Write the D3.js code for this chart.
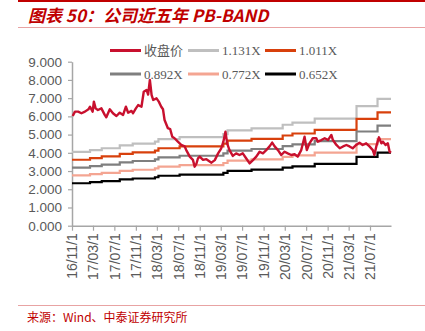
<!DOCTYPE html>
<html>
<head>
<meta charset="utf-8">
<script src="https://cdn.jsdelivr.net/npm/d3@7"></script>
<style>
  html, body { margin: 0; padding: 0; background: #fff; }
  svg { display: block; }
</style>
</head>
<body>
<svg id="chart" width="425" height="331"></svg>
<script>
// ---------- data ----------
const closeDates = ["2016-11-05","2016-11-18","2016-12-06","2016-12-25","2017-01-14","2017-02-03","2017-02-12","2017-02-27","2017-03-06","2017-03-16","2017-03-29","2017-04-18","2017-05-07","2017-05-16","2017-06-05","2017-06-23","2017-07-13","2017-08-01","2017-08-20","2017-09-05","2017-09-18","2017-10-07","2017-10-16","2017-11-01","2017-11-14","2017-12-03","2017-12-16","2018-01-01","2018-01-10","2018-01-20","2018-01-30","2018-02-08","2018-02-27","2018-03-12","2018-03-26","2018-04-05","2018-04-14","2018-05-03","2018-05-16","2018-05-28","2018-06-10","2018-06-29","2018-07-18","2018-08-07","2018-08-16","2018-09-05","2018-09-23","2018-10-03","2018-10-13","2018-10-22","2018-11-01","2018-11-20","2018-12-09","2019-01-07","2019-01-26","2019-02-14","2019-03-04","2019-03-16","2019-03-28","2019-04-07","2019-04-20","2019-05-09","2019-05-28","2019-06-16","2019-07-05","2019-07-24","2019-08-13","2019-09-01","2019-09-20","2019-10-09","2019-10-28","2019-11-16","2019-12-05","2019-12-20","2020-01-03","2020-01-22","2020-02-10","2020-02-29","2020-03-18","2020-04-07","2020-04-26","2020-05-14","2020-06-03","2020-06-22","2020-07-05","2020-07-20","2020-08-08","2020-08-28","2020-09-06","2020-09-26","2020-10-15","2020-11-03","2020-11-22","2020-12-01","2020-12-21","2021-01-09","2021-01-28","2021-02-16","2021-03-06","2021-03-24","2021-04-13","2021-05-02","2021-05-20","2021-06-09","2021-06-28","2021-07-17","2021-07-26","2021-08-06","2021-08-21","2021-09-04","2021-09-13","2021-09-28","2021-10-11","2021-10-21","2021-10-29"];
const closeValues = [6.02,6.26,6.26,6.17,6.26,6.39,6.53,6.26,6.81,6.44,6.35,6.44,6.08,5.95,6.39,6.17,6.02,6.20,6.08,6.53,6.20,6.30,6.17,6.44,6.62,6.53,7.35,7.45,7.20,8.00,7.17,6.90,6.99,6.81,6.53,6.39,5.80,5.35,5.30,4.88,4.80,4.61,4.43,4.35,4.15,3.79,3.61,3.24,3.40,3.70,3.79,3.61,3.65,3.46,3.60,3.97,4.25,4.61,5.16,4.50,4.15,3.83,3.97,3.88,3.97,3.70,3.42,3.60,3.79,4.06,3.97,4.15,4.35,4.56,4.35,4.15,3.88,4.06,3.97,3.88,3.92,3.79,4.15,4.88,4.15,4.52,4.80,4.80,4.61,4.70,4.80,4.70,4.98,4.70,4.43,4.25,4.35,4.43,4.35,4.25,4.43,4.56,4.43,4.52,4.35,4.15,3.88,4.35,4.85,4.52,4.61,4.43,4.52,4.06,4.00];

// PB band step dates (book value per share changes) and band values
const bandDates = ["2016-11-01","2017-02-12","2017-04-20","2017-08-01","2017-10-14","2018-02-18","2018-03-10","2018-07-09","2019-03-16","2019-04-09","2019-08-24","2020-02-18","2020-04-14","2020-08-19","2021-04-15","2021-08-13","2021-10-29"];
const band1131 = [4.05,4.15,4.25,4.41,4.50,4.61,4.75,4.86,5.03,5.23,5.34,5.54,5.66,5.88,6.56,6.96,6.96];
const band1011 = [3.62,3.71,3.80,3.94,4.02,4.12,4.25,4.35,4.50,4.67,4.77,4.95,5.06,5.26,5.86,6.22,6.22];
const band0892 = [3.19,3.27,3.35,3.48,3.55,3.64,3.75,3.84,3.97,4.12,4.21,4.37,4.46,4.64,5.17,5.49,5.49];
const band0772 = [2.76,2.83,2.90,3.01,3.07,3.15,3.24,3.32,3.44,3.57,3.64,3.78,3.86,4.01,4.48,4.75,4.75];
const band0652 = [2.33,2.39,2.45,2.54,2.59,2.66,2.74,2.80,2.90,3.01,3.08,3.19,3.26,3.39,3.78,4.01,4.01];

const seriesNames = ["收盘价","1.131X","1.011X","0.892X","0.772X","0.652X"];
const tickDates = ["2016-11-01","2017-03-01","2017-07-01","2017-11-01","2018-03-01","2018-07-01","2018-11-01","2019-03-01","2019-07-01","2019-11-01","2020-03-01","2020-07-01","2020-11-01","2021-03-01","2021-07-01"];
const tickLabels = ["16/11/1","17/03/1","17/07/1","17/11/1","18/03/1","18/07/1","18/11/1","19/03/1","19/07/1","19/11/1","20/03/1","20/07/1","20/11/1","21/03/1","21/07/1"];
const yTicks = [0,1,2,3,4,5,6,7,8,9];

// ---------- drawing ----------
const parse = d3.timeParse("%Y-%m-%d");
const svg = d3.select("#chart");
const colors = ["#C8102E","#BFBFBF","#D8400C","#7F7F7F","#F4A592","#000000"];

// frame lines & title
svg.append("rect").attr("x",18).attr("y",0).attr("width",407).attr("height",2).attr("fill","#C00000");
svg.append("text").attr("x",28).attr("y",22)
  .attr("fill","#C00000").attr("font-family","'Noto Sans CJK SC', 'Liberation Sans', sans-serif")
  .attr("font-size","17px").attr("font-weight","bold").attr("font-style","italic")
  .text("图表 50：公司近五年 PB-BAND");
svg.append("line").attr("x1",18).attr("x2",425).attr("y1",27.5).attr("y2",27.5).attr("stroke","#E8A3A3").attr("stroke-width",1);
svg.append("line").attr("x1",18).attr("x2",425).attr("y1",305.5).attr("y2",305.5).attr("stroke","#E8A3A3").attr("stroke-width",1);
svg.append("text").attr("x",27).attr("y",322)
  .attr("fill","#C00000").attr("font-family","'Noto Sans CJK SC', sans-serif")
  .attr("font-size","12px").text("来源：Wind、中泰证券研究所");

const x = d3.scaleTime().domain([parse("2016-11-01"), parse("2021-10-29")]).range([72, 391]);
const y = d3.scaleLinear().domain([0, 9]).range([225.7, 61.7]);

// y axis
const yAxis = svg.append("g").attr("transform","translate(72,0)")
  .call(d3.axisLeft(y).tickValues(yTicks).tickFormat(d3.format(".3f")).tickSize(4).tickSizeOuter(0));
yAxis.select(".domain").attr("stroke","#A6A6A6").attr("stroke-width",1.5);
yAxis.selectAll(".tick line").attr("stroke","#A6A6A6").attr("stroke-width",1.2);
yAxis.selectAll(".tick text").attr("fill","#595959").attr("font-family","'Liberation Sans', Arial, sans-serif").attr("font-size","13.5px").attr("x",-10);

// x axis
const xAxis = svg.append("g").attr("transform","translate(0,225.7)")
  .call(d3.axisBottom(x).tickValues(tickDates.map(parse)).tickFormat((d,i)=>tickLabels[i]).tickSize(5).tickSizeOuter(0));
xAxis.select(".domain").attr("stroke","#A6A6A6").attr("stroke-width",1.5);
xAxis.selectAll(".tick line").attr("stroke","#A6A6A6").attr("stroke-width",1.2);
xAxis.selectAll(".tick text").attr("fill","#595959").attr("font-family","'Liberation Sans', Arial, sans-serif").attr("font-size","14px")
  .attr("transform","rotate(-90)").attr("x",-7.5).attr("y",0).attr("dy","0.35em").style("text-anchor","end");

// bands
const bands = [band1131, band1011, band0892, band0772, band0652];
const stepLine = d3.line().curve(d3.curveStepAfter).x(d=>x(d[0])).y(d=>y(d[1]));
bands.forEach((vals, i) => {
  const pts = bandDates.map((d, j) => [parse(d), vals[j]]);
  svg.append("path").datum(pts).attr("d", stepLine).attr("fill","none")
    .attr("stroke", colors[i+1]).attr("stroke-width", 2.2);
});

// close
const closeLine = d3.line().x(d=>x(d[0])).y(d=>y(d[1]));
svg.append("path").datum(closeDates.map((d,i)=>[parse(d), closeValues[i]]))
  .attr("d", closeLine).attr("fill","none").attr("stroke", colors[0]).attr("stroke-width", 2.4).attr("stroke-linejoin","round");

// legend
const legX = [110, 188, 265];
const legY = [50.5, 74];
seriesNames.forEach((name, i) => {
  const lx = legX[i % 3], ly = legY[Math.floor(i / 3)];
  svg.append("line").attr("x1", lx).attr("x2", lx + 31).attr("y1", ly).attr("y2", ly)
    .attr("stroke", colors[i]).attr("stroke-width", 3);
  svg.append("text").attr("x", lx + 34).attr("y", ly).attr("dy","0.35em")
    .attr("fill","#595959")
    .attr("font-family", i === 0 ? "'Noto Sans CJK SC', serif" : "'Liberation Serif', 'Times New Roman', serif")
    .attr("font-size","13px").text(name);
});
</script>
</body>
</html>
